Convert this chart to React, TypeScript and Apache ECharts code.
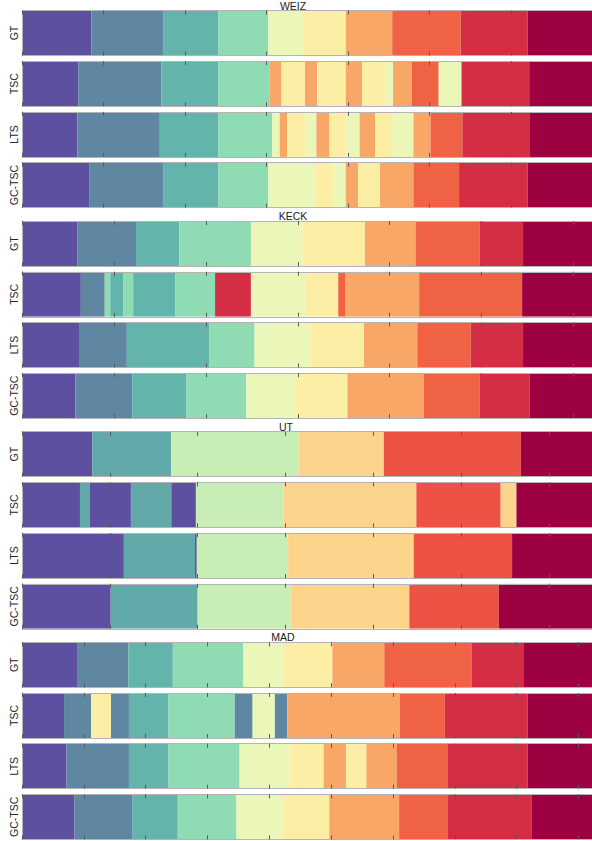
import React, { useEffect, useRef } from "react";
import * as echarts from "echarts";

// Dataset titles and method (row) names
const GROUPS = ["WEIZ", "KECK", "UT", "MAD"];
const METHODS = ["GT", "TSC", "LTS", "GC-TSC"];

// Frame count (x-axis max) for each dataset
const GROUP_MAX = [699, 620, 649, 922];

// Cluster colours
const COLORS10 = [
  "#5e50a1", "#5f87a2", "#63b4aa", "#8fdcb4", "#ebf7b9",
  "#fdeea6", "#f9a766", "#f06244", "#d42e44", "#9e0142",
];
const COLORS6 = ["#5e50a1", "#62a9a9", "#c8edb5", "#fdd48c", "#ed5345", "#9e0142"];

// Segments: [cluster label, end frame]; each segment starts where the previous ends
const WEIZ_GT = [[0, 85], [1, 173], [2, 241], [3, 302], [4, 345], [5, 397], [6, 454], [7, 538], [8, 620], [9, 699]];
const WEIZ_TSC = [[0, 69], [1, 171], [2, 241], [3, 304], [6, 318], [5, 347], [6, 362], [5, 397], [6, 417], [5, 447], [4, 455], [6, 478], [7, 511], [4, 539], [8, 622], [9, 699]];
const WEIZ_LTS = [[0, 68], [1, 169], [2, 241], [3, 307], [4, 316], [6, 325], [5, 348], [4, 361], [6, 377], [5, 398], [4, 414], [6, 433], [5, 454], [4, 480], [6, 501], [7, 540], [8, 623], [9, 699]];
const WEIZ_GCTSC = [[0, 83], [1, 173], [2, 241], [3, 302], [4, 359], [5, 382], [4, 397], [6, 412], [5, 439], [6, 480], [7, 536], [8, 620], [9, 699]];

const KECK_GT = [[0, 60], [1, 124], [2, 171], [3, 249], [4, 305], [5, 373], [6, 428], [7, 498], [8, 545], [9, 620]];
const KECK_TSC = [[0, 64], [1, 90], [3, 96], [2, 110], [3, 121], [2, 167], [3, 210], [8, 249], [4, 309], [5, 344], [7, 352], [6, 432], [7, 544], [9, 620]];
const KECK_LTS = [[0, 62], [1, 114], [2, 204], [3, 253], [4, 313], [5, 372], [6, 430], [7, 488], [8, 545], [9, 620]];
const KECK_GCTSC = [[0, 58], [1, 120], [2, 179], [3, 244], [4, 298], [5, 354], [6, 437], [7, 498], [8, 552], [9, 620]];

const UT_GT = [[0, 80], [1, 170], [2, 315], [3, 412], [4, 568], [5, 649]];
const UT_TSC = [[0, 66], [1, 77], [0, 124], [1, 170], [0, 198], [2, 298], [3, 449], [4, 545], [3, 563], [5, 649]];
const UT_LTS = [[0, 116], [1, 197], [0, 199], [2, 303], [3, 446], [4, 558], [5, 649]];
const UT_GCTSC = [[0, 101], [1, 200], [2, 306], [3, 441], [4, 543], [5, 649]];

const MAD_GT = [[0, 89], [1, 172], [2, 244], [3, 358], [4, 422], [5, 502], [6, 586], [7, 727], [8, 812], [9, 922]];
const MAD_TSC = [[0, 68], [1, 112], [5, 144], [1, 173], [2, 237], [3, 344], [1, 373], [4, 409], [1, 429], [6, 611], [7, 684], [8, 818], [9, 922]];
const MAD_LTS = [[0, 72], [1, 173], [2, 237], [3, 352], [4, 433], [5, 488], [6, 524], [5, 557], [6, 606], [7, 689], [8, 818], [9, 922]];
const MAD_GCTSC = [[0, 85], [1, 179], [2, 252], [3, 347], [4, 422], [5, 497], [6, 610], [7, 689], [8, 824], [9, 922]];

const ROWS = [
  [WEIZ_GT, WEIZ_TSC, WEIZ_LTS, WEIZ_GCTSC],
  [KECK_GT, KECK_TSC, KECK_LTS, KECK_GCTSC],
  [UT_GT, UT_TSC, UT_LTS, UT_GCTSC],
  [MAD_GT, MAD_TSC, MAD_LTS, MAD_GCTSC],
];
const GROUP_COLORS = [COLORS10, COLORS10, COLORS6, COLORS10];

// Layout
const LEFT = 20;
const WIDTH = 573;
const GROUP_TOP0 = 10.5;
const GROUP_PITCH = 210.6;
const ROW_PITCH = 50.7;
const STRIP_H = 45;
const TITLE_X = [293, 293, 286, 283];
const FONT = "'Liberation Sans', Arial, sans-serif";
const SPINE = "#b4b4b4";
const TICK = "#5a5a5a";

export default function App() {
  const ref = useRef<HTMLDivElement>(null);

  useEffect(() => {
    if (!ref.current) return;
    const chart = echarts.init(ref.current, undefined, { renderer: "svg" });

    const grid: any[] = [];
    const xAxis: any[] = [];
    const yAxis: any[] = [];
    const series: any[] = [];
    const graphic: any[] = [];

    GROUPS.forEach((g, gi) => {
      const gTop = GROUP_TOP0 + gi * GROUP_PITCH;
      graphic.push({
        type: "text",
        x: TITLE_X[gi],
        y: gTop - 5,
        style: {
          text: g,
          fill: "#222",
          font: `10.5px ${FONT}`,
          textAlign: "center",
          textVerticalAlign: "middle",
        },
      });
      METHODS.forEach((m, ri) => {
        const idx = gi * 4 + ri;
        grid.push({
          left: LEFT,
          top: gTop + ri * ROW_PITCH,
          width: WIDTH,
          height: STRIP_H,
          containLabel: false,
        });
        const common = {
          type: "value",
          gridIndex: idx,
          min: 0,
          max: GROUP_MAX[gi],
          interval: 100,
          z: 10,
          axisLabel: { show: false },
          splitLine: { show: false },
          axisLine: { show: true, lineStyle: { color: SPINE, width: 1 } },
          axisTick: { show: true, inside: true, length: 4, lineStyle: { color: TICK, width: 1 } },
        };
        xAxis.push({ ...common, position: "bottom" });
        xAxis.push({ ...common, position: "top" });
        yAxis.push({
          type: "value",
          gridIndex: idx,
          min: 0,
          max: 1,
          z: 10,
          axisLabel: { show: false },
          splitLine: { show: false },
          axisTick: { show: false },
          axisLine: { show: true, lineStyle: { color: SPINE, width: 1 } },
          name: m,
          nameLocation: "middle",
          nameRotate: 90,
          nameGap: 3,
          nameTextStyle: { fontSize: 10.5, color: "#262626", fontFamily: FONT },
        });
        const segs = ROWS[gi][ri];
        const data: number[][] = [];
        let start = 0;
        segs.forEach(([lab, end]) => {
          data.push([start, end, lab]);
          start = end;
        });
        const colors = GROUP_COLORS[gi];
        series.push({
          type: "custom",
          xAxisIndex: idx * 2,
          yAxisIndex: idx,
          encode: { x: [0, 1] },
          data,
          clip: true,
          renderItem: (params: any, api: any) => {
            const s = api.value(0);
            const e = api.value(1);
            const c = api.value(2);
            const p0 = api.coord([s, 1]);
            const p1 = api.coord([e, 0]);
            return {
              type: "rect",
              shape: { x: p0[0], y: p0[1], width: p1[0] - p0[0], height: p1[1] - p0[1] },
              style: { fill: colors[c], stroke: null },
            };
          },
        });
      });
    });

    chart.setOption({
      animation: false,
      backgroundColor: "#ffffff",
      grid,
      xAxis,
      yAxis,
      series,
      graphic,
    });

    return () => chart.dispose();
  }, []);

  return (
    <div
      ref={ref}
      style={{ position: "absolute", left: 0, top: 0, width: 592, height: 841 }}
    />
  );
}
